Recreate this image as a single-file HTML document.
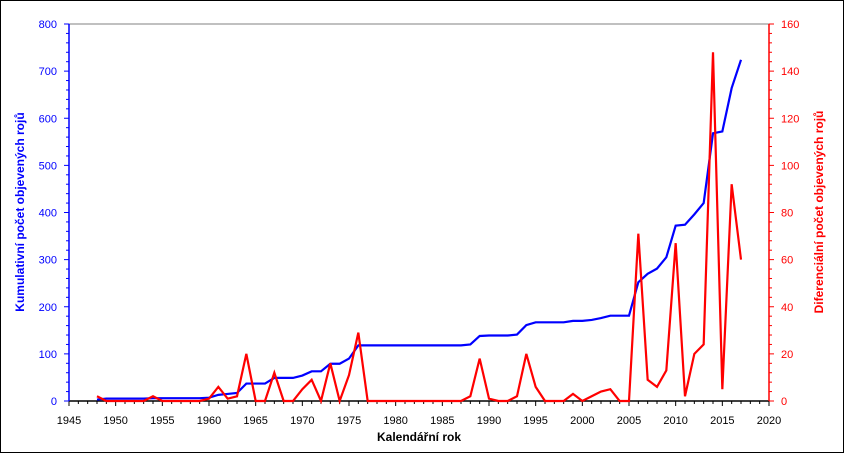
<!DOCTYPE html>
<html><head><meta charset="utf-8"><style>
body{margin:0;background:#fff;font-family:"Liberation Sans",sans-serif}
svg{display:block}
</style></head><body>
<svg id="c" width="844" height="453" xmlns="http://www.w3.org/2000/svg">
<rect x="0.5" y="0.5" width="843" height="452" fill="#fff" stroke="#000"/>
</svg>
<script>
const years=[];for(let y=1948;y<=2017;y++)years.push(y);
const cumulative=[3,5,5,5,5,5,6,6,6,6,6,6,7,13,15,17,37,37,37,49,49,49,54,63,63,79,79,90,118,118,118,118,118,118,118,118,118,118,118,118,120,138,139,139,139,141,161,167,167,167,167,170,170,172,176,181,181,181,252,270,281,305,372,374,396,420,568,572,664,724];
const differential=[2,0,0,0,0,0,2,0,0,0,0,0,1,6,1,2,20,0,0,12,0,0,5,9,0,16,0,11,29,0,0,0,0,0,0,0,0,0,0,0,2,18,1,0,0,2,20,6,0,0,0,3,0,2,4,5,0,0,71,9,6,13,67,2,20,24,148,5,92,60];
const xTicks=[1945,1950,1955,1960,1965,1970,1975,1980,1985,1990,1995,2000,2005,2010,2015,2020];
const leftTicks=[0,100,200,300,400,500,600,700,800];
const rightTicks=[0,20,40,60,80,100,120,140,160];
const L=69,R=769,T=24,B=401;
const X=v=>L+(v-1945)/(75)*(R-L);
const YL=v=>B-v/800*(B-T);
const YR=v=>B-v/160*(B-T);
const svg=document.getElementById('c');const NS='http://www.w3.org/2000/svg';
function el(t,a,name,txt){const e=document.createElementNS(NS,t);for(const k in a)e.setAttribute(k,a[k]);


if(txt!==undefined)e.textContent=txt;svg.appendChild(e);return e;}
el('line',{x1:L,y1:T,x2:R,y2:T,stroke:'#808080'},'plot-top-border');
// x axis
el('line',{x1:L,y1:B,x2:R,y2:B,stroke:'#000','stroke-width':1.5},'x-axis');
for(let y=1945;y<=2020;y++){const maj=y%5===0;el('line',{x1:X(y),y1:B,x2:X(y),y2:B+(maj?5:3),stroke:'#000'},'x-tick');}
xTicks.forEach(t=>el('text',{x:X(t),y:424,'font-size':11,'text-anchor':'middle',fill:'#000'},'x-tick-label',t));
el('text',{x:419,y:441,'font-size':12,'font-weight':'bold','text-anchor':'middle'},'x-axis-title','Kalendářní rok');
// left axis
el('line',{x1:L,y1:T,x2:L,y2:B,stroke:'#0000ff','stroke-width':1.5},'left-axis');
for(let v=0;v<=800;v+=20){const maj=v%100===0;el('line',{x1:L-(maj?5:3),y1:YL(v),x2:L,y2:YL(v),stroke:'#0000ff'},'left-tick');}
leftTicks.forEach(t=>el('text',{x:57,y:YL(t)+4,'font-size':11,'text-anchor':'end',fill:'#0000ff'},'left-tick-label',t));
el('text',{x:24,y:212,'font-size':12,'font-weight':'bold','text-anchor':'middle',fill:'#0000ff',transform:'rotate(-90 24 212)'},'left-axis-title','Kumulativní počet objevených rojů');
// right axis
el('line',{x1:R,y1:T,x2:R,y2:B,stroke:'#ff0000','stroke-width':1.5},'right-axis');
for(let v=0;v<=160;v+=4){const maj=v%20===0;el('line',{x1:R,y1:YR(v),x2:R+(maj?5:3),y2:YR(v),stroke:'#ff0000'},'right-tick');}
rightTicks.forEach(t=>el('text',{x:781,y:YR(t)+4,'font-size':11,'text-anchor':'start',fill:'#ff0000'},'right-tick-label',t));
el('text',{x:823,y:212,'font-size':12,'font-weight':'bold','text-anchor':'middle',fill:'#ff0000',transform:'rotate(-90 823 212)'},'right-axis-title','Diferenciální počet objevených rojů');
// series
el('polyline',{points:years.map((y,i)=>X(y)+','+YL(cumulative[i])).join(' '),fill:'none',stroke:'#0000ff','stroke-width':2.2},'cumulative-line');
el('polyline',{points:years.map((y,i)=>X(y)+','+YR(differential[i])).join(' '),fill:'none',stroke:'#ff0000','stroke-width':2.2},'differential-line');
</script>
</body></html>
